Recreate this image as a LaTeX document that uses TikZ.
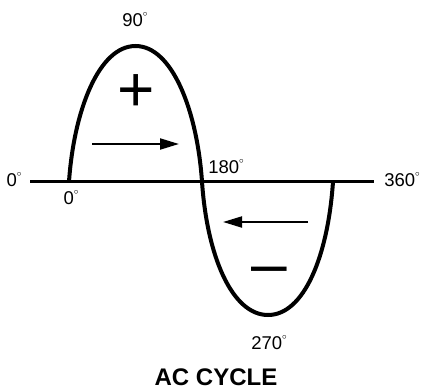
\documentclass[tikz,border=0pt]{standalone}
\usepackage{fontspec}
\setmainfont{Liberation Sans}
\usetikzlibrary{arrows.meta}
\newcommand{\dg}{\smash{\raisebox{0.55em}{$\scriptscriptstyle\circ$}}}

\begin{document}
\begin{tikzpicture}[x=1pt,y=-1pt,
  wave/.style={line width=4pt},
  flow/.style={line width=2pt,-{Triangle[length=19pt,width=11pt]}},
  deg/.style={font=\fontsize{18.5}{20}\selectfont,inner sep=0pt},
  sign/.style={font=\fontsize{64}{64}\selectfont,inner sep=0pt}]
\useasboundingbox (0,0) rectangle (422,390);
\coordinate (axisL) at (30,181.6);
\coordinate (axisR) at (374,181.6);
\draw[line width=2.5pt] (axisL) -- (axisR);
\draw[wave] (69,181.6) .. controls (74,110) and (99,46) .. (135.5,46)
  .. controls (172,46) and (197,110) .. (202,181.6)
  .. controls (207,256) and (232,315) .. (268,315)
  .. controls (304,315) and (328,256) .. (333,181.6);
\coordinate (fwdA) at (92,144);
\coordinate (fwdB) at (179,144);
\draw[flow] (fwdA) -- (fwdB);
\coordinate (revA) at (308,222);
\coordinate (revB) at (223,222);
\draw[flow] (revA) -- (revB);
\node[sign] (plus) at (136,93) {+};
\node[sign] (minus) at (269,276) {–};
\node[deg] (d90) at (135,20) {90\dg};
\node[deg] (d0L) at (14,180) {0\dg};
\node[deg] (d0B) at (71,198) {0\dg};
\node[deg] (d180) at (226,167) {180\dg};
\node[deg] (d360) at (402,180) {360\dg};
\node[deg] (d270) at (269,343) {270\dg};
\node[font=\fontsize{24}{25}\selectfont\bfseries] (title) at (216,377) {AC CYCLE};
\end{tikzpicture}
\end{document}
